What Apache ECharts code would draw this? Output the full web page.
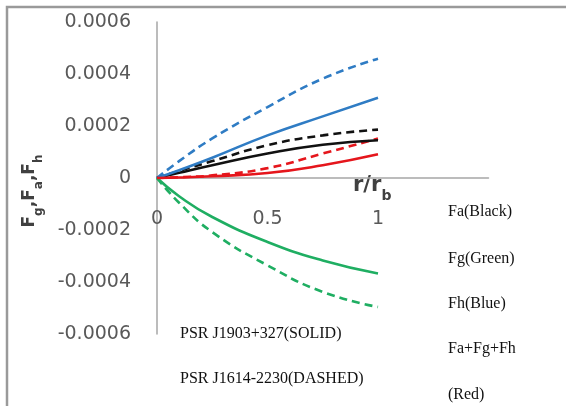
<!DOCTYPE html>
<html>
<head>
<meta charset="utf-8">
<script src="https://cdn.jsdelivr.net/npm/echarts@6/dist/echarts.min.js"></script>
<style>
  html, body { margin: 0; padding: 0; background: #fff; }
  #chart { width: 566px; height: 406px; }
</style>
</head>
<body>
<div id="chart"></div>
<script>
// r / r_b sample positions
const rRatio = [0, 0.1, 0.25, 0.5, 0.75, 1];

// PSR J1903+327 (solid lines)
const faSolid  = [0, 0.00002, 0.000049, 0.000094, 0.000128, 0.000145];
const fgSolid  = [0, -0.00007, -0.00015, -0.000246, -0.000317, -0.000367];
const fhSolid  = [0, 0.00003, 0.000078, 0.000164, 0.000237, 0.000309];
const sumSolid = [0, 0.000002, 0.000007, 0.000019, 0.000049, 0.000091];

// PSR J1614-2230 (dashed lines)
const faDashed  = [0, 0.000027, 0.000065, 0.000126, 0.000164, 0.000186];
const fgDashed  = [0, -0.000095, -0.000208, -0.000336, -0.000438, -0.000496];
const fhDashed  = [0, 0.000065, 0.000152, 0.000273, 0.000382, 0.000459];
const sumDashed = [0, 0.000003, 0.00001, 0.000038, 0.000094, 0.000152];

const yTicks = [-0.0006, -0.0004, -0.0002, 0, 0.0002, 0.0004, 0.0006];
const xTickLabels = ['0', '0.5', '1'];

const legendLines = ['Fa(Black)', 'Fg(Green)', 'Fh(Blue)', 'Fa+Fg+Fh', '(Red)'];
const pulsarNotes = ['PSR J1903+327(SOLID)', 'PSR J1614-2230(DASHED)'];

const COLORS = { fa: '#111111', fg: '#1fae62', fh: '#2f7cc4', sum: '#e5161c' };

function pairs(values) {
  return rRatio.map((r, i) => [r, values[i]]);
}

function curve(name, values, color, dashed) {
  return {
    name: name,
    type: 'line',
    data: pairs(values),
    smooth: true,
    showSymbol: false,
    lineStyle: { color: color, width: 2.6, type: dashed ? [8, 5] : 'solid', cap: 'butt' },
    emphasis: { disabled: true },
    z: dashed ? 3 : 4
  };
}

// main glyphs plus lowered subscripts
function titleRich(main, sub, lh) {
  const base = { fontFamily: 'DejaVu Sans', fontWeight: 'bold', color: '#404040', fill: '#404040', lineHeight: lh };
  return {
    m: Object.assign({ fontSize: main, verticalAlign: 'top' }, base),
    s: Object.assign({ fontSize: sub, verticalAlign: 'bottom' }, base)
  };
}

const serifText = { fontFamily: 'Liberation Serif', fontSize: 16, fill: '#111' };
const legendY = [213, 260, 305, 350, 396];
const noteY = [335, 380];

const graphics = [
  // outer frame edges
  { type: 'polyline', shape: { points: [[7, 406], [7, 7], [566, 7]] },
    style: { stroke: '#9a9a9a', lineWidth: 2.5, fill: null }, silent: true },
  // x-axis title r/r_b
  { type: 'text', left: 353, top: 175,
    style: { text: '{m|r/r}{s|b}', rich: titleRich(21, 14, 28) } }
];
legendLines.forEach((t, i) => {
  graphics.push({ type: 'text', left: 448, top: legendY[i] - 9,
    style: Object.assign({ text: t }, serifText) });
});
pulsarNotes.forEach((t, i) => {
  graphics.push({ type: 'text', left: 180, top: noteY[i] - 9,
    style: Object.assign({ text: t }, serifText) });
});

const chart = echarts.init(document.getElementById('chart'), null, { renderer: 'canvas' });
chart.setOption({
  animation: false,
  backgroundColor: '#ffffff',
  grid: { left: 157, top: 22, width: 331.5, height: 312, containLabel: false },
  xAxis: {
    type: 'value',
    min: 0, max: 1.5, interval: 0.5,
    position: 'bottom',
    offset: -156,
    axisLine: { onZero: false, lineStyle: { color: '#a6a6a6', width: 1.5 } },
    axisTick: { show: false },
    splitLine: { show: false },
    axisLabel: {
      margin: 32,
      fontFamily: 'DejaVu Sans', fontSize: 19, color: '#595959',
      formatter: v => {
        const s = String(v);
        return xTickLabels.indexOf(s) >= 0 ? s : '';
      }
    }
  },
  yAxis: {
    type: 'value',
    min: yTicks[0], max: yTicks[yTicks.length - 1], interval: 0.0002,
    axisLine: { show: true, lineStyle: { color: '#a6a6a6', width: 1.5 } },
    axisTick: { show: false },
    splitLine: { show: false },
    axisLabel: {
      margin: 26,
      fontFamily: 'DejaVu Sans', fontSize: 19, color: '#595959',
      formatter: v => {
        if (Math.abs(v) < 1e-12) return '0';
        return v.toFixed(4);
      }
    },
    name: '{m|F}{s|g}{m|,F}{s|a}{m|,F}{s|h}',
    nameLocation: 'middle',
    nameRotate: 90,
    nameGap: 112,
    nameTextStyle: { rich: titleRich(17, 12, 24), padding: [0, 26, 0, 0] }
  },
  series: [
    curve('Fa J1614-2230', faDashed, COLORS.fa, true),
    curve('Fg J1614-2230', fgDashed, COLORS.fg, true),
    curve('Fh J1614-2230', fhDashed, COLORS.fh, true),
    curve('Sum J1614-2230', sumDashed, COLORS.sum, true),
    curve('Fa J1903+327', faSolid, COLORS.fa, false),
    curve('Fg J1903+327', fgSolid, COLORS.fg, false),
    curve('Fh J1903+327', fhSolid, COLORS.fh, false),
    curve('Sum J1903+327', sumSolid, COLORS.sum, false)
  ],
  graphic: graphics
});
</script>
</body>
</html>
